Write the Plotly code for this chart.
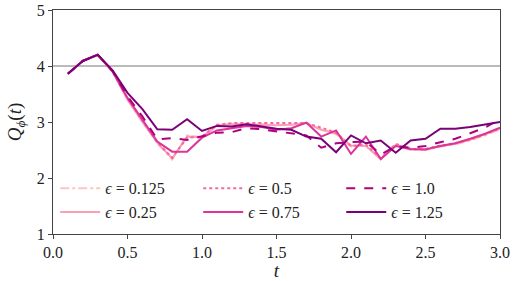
import plotly.graph_objects as go

t = [round(0.1 * k, 1) for k in range(1, 31)]

eps_labels = ["0.125", "0.25", "0.5", "0.75", "1.0", "1.25"]

q_0125 = [3.86, 4.09, 4.20, 3.90, 3.40, 3.00, 2.62, 2.33, 2.76, 2.72, 2.93, 2.97, 2.97, 2.96, 2.95, 2.95, 2.97, 2.88, 2.78, 2.56, 2.58, 2.33, 2.60, 2.50, 2.50, 2.56, 2.60, 2.67, 2.76, 2.87]
q_025 = [3.86, 4.09, 4.20, 3.90, 3.40, 3.00, 2.63, 2.35, 2.74, 2.73, 2.94, 2.96, 2.96, 2.95, 2.94, 2.95, 2.98, 2.86, 2.80, 2.58, 2.57, 2.34, 2.59, 2.51, 2.51, 2.57, 2.61, 2.68, 2.78, 2.88]
q_05 = [3.86, 4.09, 4.20, 3.90, 3.42, 3.02, 2.64, 2.36, 2.72, 2.74, 2.95, 2.98, 2.98, 2.97, 2.97, 2.97, 2.98, 2.90, 2.81, 2.57, 2.60, 2.35, 2.61, 2.52, 2.52, 2.58, 2.62, 2.69, 2.78, 2.89]
q_075 = [3.86, 4.09, 4.20, 3.90, 3.43, 3.05, 2.65, 2.47, 2.47, 2.72, 2.85, 2.89, 2.93, 2.91, 2.86, 2.89, 2.99, 2.74, 2.85, 2.43, 2.74, 2.34, 2.57, 2.52, 2.51, 2.57, 2.62, 2.70, 2.79, 2.90]
q_10 = [3.86, 4.09, 4.20, 3.91, 3.46, 3.10, 2.69, 2.71, 2.68, 2.74, 2.81, 2.82, 2.89, 2.87, 2.83, 2.79, 2.76, 2.54, 2.62, 2.64, 2.65, 2.42, 2.57, 2.54, 2.57, 2.64, 2.70, 2.80, 2.90, 3.05]
q_125 = [3.86, 4.09, 4.20, 3.92, 3.52, 3.23, 2.87, 2.86, 3.05, 2.84, 2.93, 2.92, 2.96, 2.92, 2.88, 2.86, 2.74, 2.70, 2.46, 2.76, 2.62, 2.67, 2.45, 2.67, 2.70, 2.88, 2.88, 2.91, 2.95, 3.00]

series = [q_0125, q_025, q_05, q_075, q_10, q_125]
colors = ["#fcc5c0", "#fa9fb5", "#f768a1", "#dd3497", "#ae017e", "#7a0177"]
dashes = ["dashdot", "solid", "dot", "solid", "dash", "solid"]
ranks = [1, 4, 2, 5, 3, 6]

FONT = "Liberation Serif"

fig = go.Figure()
for lab, ys, c, d, r in zip(eps_labels, series, colors, dashes, ranks):
    fig.add_trace(go.Scatter(
        x=t, y=ys, mode="lines",
        line=dict(color=c, width=2, dash=d),
        name=f"<i>ϵ</i> = {lab}",
        legendrank=r,
    ))

fig.add_hline(y=4, line=dict(color="#777777", width=1), layer="below")

axis_common = dict(
    showline=True, linecolor="#444444", linewidth=1, mirror=True,
    ticks="outside", ticklen=4, tickcolor="#444444",
    showgrid=False, zeroline=False,
    tickfont=dict(family=FONT, size=16, color="#222222"),
)

fig.update_layout(
    width=513, height=281,
    margin=dict(l=53, r=13, t=10, b=47, autoexpand=False),
    plot_bgcolor="white", paper_bgcolor="white",
    font=dict(family=FONT, color="#222222"),
    xaxis=dict(range=[0, 3], tickvals=[0, 0.5, 1, 1.5, 2, 2.5, 3],
               ticktext=["0.0", "0.5", "1.0", "1.5", "2.0", "2.5", "3.0"],
               title=dict(text="<i>t</i>", font=dict(family=FONT, size=19), standoff=2),
               **axis_common),
    yaxis=dict(range=[1, 5], tickvals=[1, 2, 3, 4, 5],
               title=dict(text="<i>Q</i><sub><i>ϕ</i></sub>(<i>t</i>)", font=dict(family=FONT, size=19), standoff=10),
               **axis_common),
    legend=dict(
        orientation="h", x=0.005, y=0.28, xanchor="left", yanchor="top",
        entrywidth=88, entrywidthmode="pixels",
        bgcolor="rgba(0,0,0,0)", font=dict(family=FONT, size=16),
        tracegroupgap=0, itemwidth=40,
    ),
    showlegend=True,
)

fig.write_html("out.html", config={"displayModeBar": False},
               post_script="document.body.style.margin='0';document.body.style.overflow='hidden';")
